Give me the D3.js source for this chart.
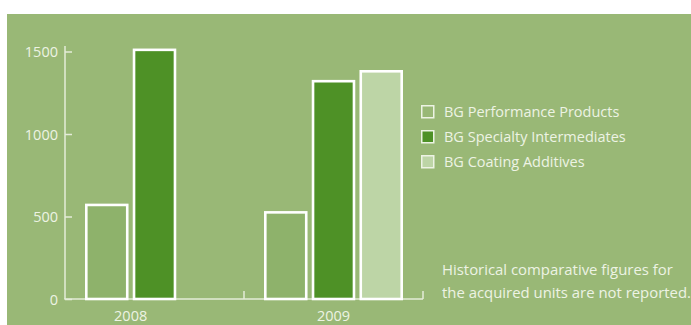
<!DOCTYPE html>
<html><head><meta charset="utf-8">
<script src="https://cdn.jsdelivr.net/npm/d3@7"></script>
<style>html,body{margin:0;padding:0;background:#fff;}svg{display:block;}</style>
</head><body><svg id="c" width="691" height="325"></svg>
<script>
const years = ["2008", "2009"];
const seriesNames = ["BG Performance Products", "BG Specialty Intermediates", "BG Coating Additives"];
const perfProducts = [570, 525];
const specIntermediates = [1510, 1320];
const coatingAdditives = [null, 1380];
const yTicks = [0, 500, 1000, 1500];
const noteLines = ["Historical comparative figures for", "the acquired units are not reported."];

const colors = ["#8eb26b", "#4e9126", "#bdd5a6"];
const bg = "#99b876", fg = "#edf3e4", axisCol = "#e4ecd9";
const font = "'Open Sans', sans-serif";

const svg = d3.select("#c");
svg.append("rect").attr("x", 7).attr("y", 14).attr("width", 684).attr("height", 311).attr("fill", bg);

const y = d3.scaleLinear().domain([0, 1500]).range([299, 51.5]);
const x0 = d3.scaleBand().domain(years).range([65, 423]).padding(0);
const x1 = d3.scaleBand().domain(d3.range(3)).range([20, 159]).paddingInner(0.088).paddingOuter(0);

const data = years.map((yr, i) => ({
  year: yr,
  vals: [perfProducts[i], specIntermediates[i], coatingAdditives[i]]
}));

// y axis
const yAxis = d3.axisRight(y).tickValues(yTicks).tickSize(7).tickFormat(d3.format("d"));
const ga = svg.append("g").attr("transform", "translate(65,0)").call(yAxis);
ga.select(".domain").remove();
ga.selectAll("line").attr("stroke", axisCol).attr("stroke-width", 1.5);
ga.selectAll("text").attr("x", -7).attr("text-anchor", "end").attr("fill", fg)
  .attr("font-family", font).attr("font-size", 14.5).attr("dy", "0.35em");
svg.append("line").attr("x1", 65).attr("x2", 65).attr("y1", 46).attr("y2", y(0))
  .attr("stroke", axisCol).attr("stroke-width", 1.5);

// x axis baseline
svg.append("line").attr("x1", 64.25).attr("x2", x0.range()[1]).attr("y1", y(0)).attr("y2", y(0))
  .attr("stroke", axisCol).attr("stroke-width", 1.5);
years.slice(1).concat(["end"]).forEach(d => {
  const xx = d === "end" ? x0.range()[1] : x0(d);
  svg.append("line").attr("x1", xx).attr("x2", xx).attr("y1", y(0)).attr("y2", y(0) - 8)
    .attr("stroke", axisCol).attr("stroke-width", 1.5);
});

// bars
const sw = 2.6;
data.forEach(g => {
  const gx = x0(g.year);
  const centers = [];
  g.vals.forEach((v, j) => {
    if (v == null) return;
    const bx = gx + x1(j), bw = x1.bandwidth();
    centers.push(bx + bw / 2);
    svg.append("rect")
      .attr("x", bx + sw / 2).attr("width", bw - sw)
      .attr("y", y(v)).attr("height", y(0) - y(v))
      .attr("fill", colors[j]).attr("stroke", "#fff").attr("stroke-width", sw);
  });
  svg.append("text").attr("x", d3.mean(centers)).attr("y", 321)
    .attr("text-anchor", "middle").attr("fill", fg)
    .attr("font-family", font).attr("font-size", 14.5).text(g.year);
});

// legend
const lg = svg.append("g").attr("transform", "translate(421,105)");
seriesNames.forEach((n, i) => {
  lg.append("rect").attr("x", 0.75).attr("y", i * 25 + 0.75).attr("width", 12).attr("height", 12)
    .attr("fill", i === 0 ? bg : colors[i]).attr("stroke", fg).attr("stroke-width", 1.5);
  lg.append("text").attr("x", 23).attr("y", i * 25 + 12).attr("fill", fg)
    .attr("font-family", font).attr("font-size", 14.5).text(n);
});

// note
noteLines.forEach((t, i) => {
  svg.append("text").attr("x", 442).attr("y", 275 + i * 22.5).attr("fill", fg)
    .attr("font-family", font).attr("font-size", 14.9).text(t);
});
</script></body></html>
